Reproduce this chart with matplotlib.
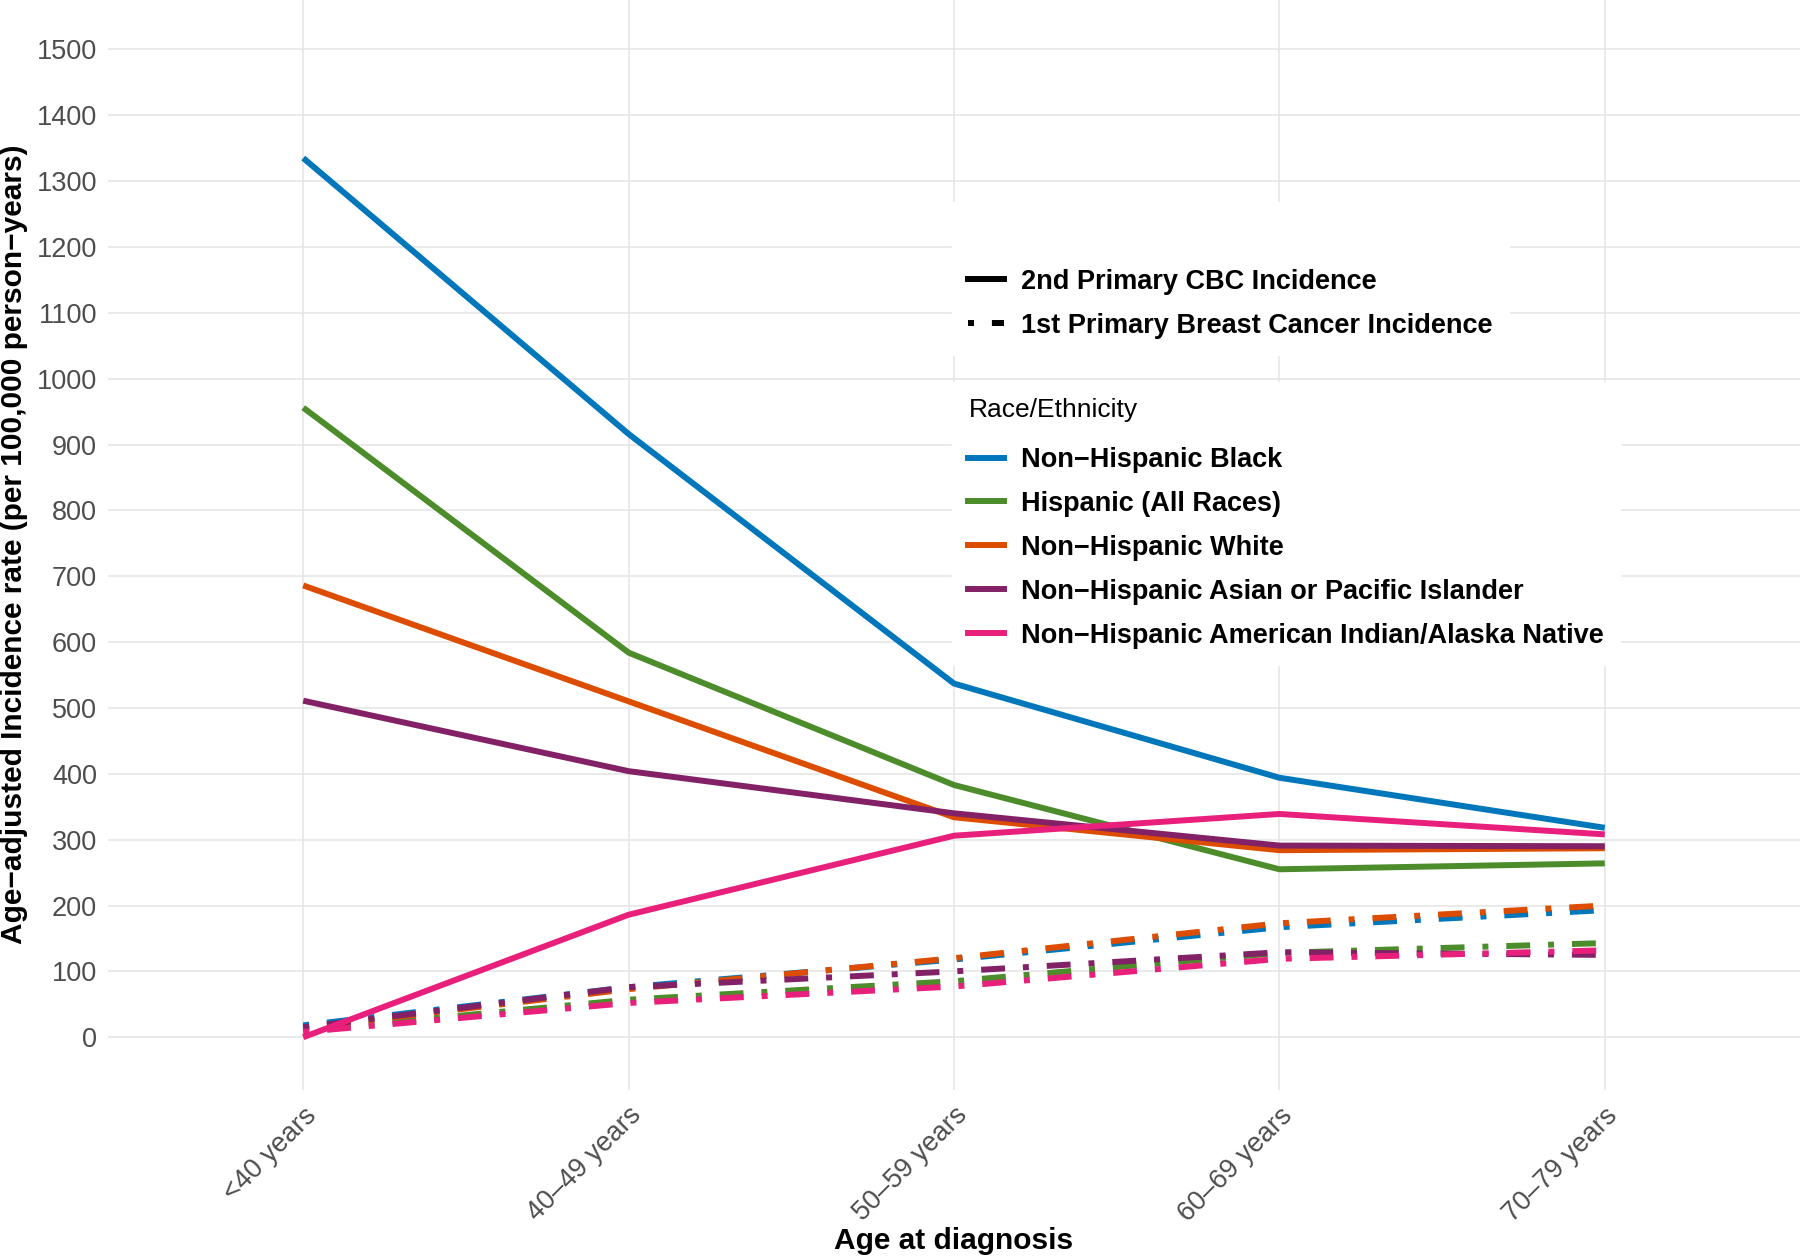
import matplotlib.pyplot as plt
from matplotlib.lines import Line2D

ages = ["<40 years", "40–49 years", "50–59 years", "60–69 years", "70–79 years"]
races = ["Non−Hispanic Black", "Hispanic (All Races)", "Non−Hispanic White",
         "Non−Hispanic Asian or Pacific Islander",
         "Non−Hispanic American Indian/Alaska Native"]
colors = ["#0077BB", "#4C8C2B", "#DD4D00", "#832167", "#E8207B"]

# 2nd primary CBC incidence
cbc_black = [1335, 916, 537, 394, 318]
cbc_hisp = [956, 584, 383, 255, 264]
cbc_white = [686, 510, 334, 284, 287]
cbc_api = [511, 404, 340, 291, 290]
cbc_aian = [0, 186, 306, 339, 308]

# 1st primary breast cancer incidence
first_black = [18, 76, 118, 167, 193]
first_hisp = [10, 57, 85, 128, 143]
first_white = [14, 73, 120, 173, 200]
first_api = [15, 76, 100, 129, 125]
first_aian = [8, 52, 77, 119, 132]

cbc = [cbc_black, cbc_hisp, cbc_white, cbc_api, cbc_aian]
first = [first_black, first_hisp, first_white, first_api, first_aian]

bold_font = ["Liberation Sans Narrow", "Liberation Sans", "DejaVu Sans"]
tick_font = ["Liberation Sans", "DejaVu Sans"]

fig = plt.figure(figsize=(18, 12.6), dpi=100)
ax = fig.add_axes([0.06, 0.135, 0.94, 0.865])

x = list(range(len(ages)))
lw = 4.3
for i in range(len(races)):
    ax.plot(x, first[i], color=colors[i], lw=lw, dashes=(1, 3, 4, 3),
            solid_capstyle="butt", dash_capstyle="butt")
for i in range(len(races)):
    ax.plot(x, cbc[i], color=colors[i], lw=lw, solid_capstyle="butt")

ax.set_xlim(-0.6, 4.6)
ax.set_ylim(-80, 1575)
ax.set_xticks(x)
ax.set_xticklabels(ages, rotation=45, ha="right", va="top",
                   fontsize=19.5, color="#4D4D4D", family=tick_font,
                   rotation_mode="anchor")
ax.set_yticks(range(0, 1600, 100))
for lab in ax.get_yticklabels():
    lab.set_fontsize(19.5)
    lab.set_color("#4D4D4D")
    lab.set_family(tick_font)
ax.tick_params(length=0, pad=8)
ax.tick_params(axis="x", pad=9)
for s in ax.spines.values():
    s.set_visible(False)
ax.grid(True, color="#E6E6E6", lw=1.2)
ax.set_axisbelow(True)

fig.text(0.008, 0.568, "Age−adjusted Incidence rate (per 100,000 person−years)",
         rotation=90, ha="center", va="center", fontsize=21.5,
         fontweight="bold", family=bold_font)
fig.text(0.53, 0.015, "Age at diagnosis", ha="center", va="center",
         fontsize=21.5, fontweight="bold", family=bold_font)

leg_kw = dict(loc="upper left", bbox_transform=fig.transFigure, frameon=True,
              fancybox=False, edgecolor="white", facecolor="white",
              framealpha=1,
              prop={"family": bold_font, "weight": "bold", "size": 19.5},
              handlelength=1.3, handletextpad=0.65, labelspacing=0.66,
              borderpad=0.6, borderaxespad=0)

lt_handles = [Line2D([], [], color="black", lw=lw),
              Line2D([], [], color="black", lw=lw, dashes=(1, 3, 4, 3))]
leg1 = ax.legend(lt_handles, ["2nd Primary CBC Incidence",
                              "1st Primary Breast Cancer Incidence"],
                 title=" ", bbox_to_anchor=(0.529, 0.84), **leg_kw)
leg1.get_title().set_fontsize(19)
leg1._legend_box.sep = 18
ax.add_artist(leg1)

race_handles = [Line2D([], [], color=c, lw=lw) for c in colors]
leg2 = ax.legend(race_handles, races, title="Race/Ethnicity",
                 bbox_to_anchor=(0.529, 0.697), **leg_kw)
leg2.get_title().set_fontsize(19)
leg2.get_title().set_family(tick_font)
leg2._legend_box.align = "left"
leg2._legend_box.sep = 18

fig.savefig("out.png", dpi=100, facecolor="white")
